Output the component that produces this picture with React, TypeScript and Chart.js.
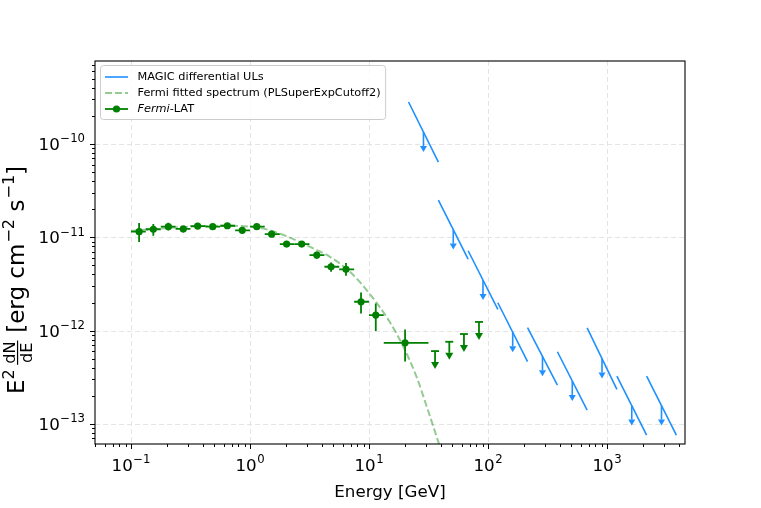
import React, { useEffect, useRef } from "react";
import { Chart, registerables } from "chart.js";

Chart.register(...registerables);

// ---------------- data ----------------
const fermiEnergy = [0.117, 0.154, 0.206, 0.275, 0.363, 0.486, 0.645, 0.861, 1.14, 1.52, 2.03, 2.72, 3.64, 4.8, 6.41, 8.57, 11.4, 20.1];
const fermiFlux = [1.15e-11, 1.22e-11, 1.3e-11, 1.23e-11, 1.32e-11, 1.3e-11, 1.33e-11, 1.19e-11, 1.3e-11, 1.08e-11, 8.47e-12, 8.47e-12, 6.45e-12, 4.84e-12, 4.54e-12, 2.04e-12, 1.47e-12, 7.41e-13];
const fermiFluxLow = [0.89e-11, 1.04e-11, 1.18e-11, 1.13e-11, 1.23e-11, 1.24e-11, 1.28e-11, 1.14e-11, 1.25e-11, 1.04e-11, 8.1e-12, 8.1e-12, 5.9e-12, 4.27e-12, 3.87e-12, 1.53e-12, 9.9e-13, 4.68e-13];
const fermiFluxHigh = [1.42e-11, 1.39e-11, 1.43e-11, 1.32e-11, 1.41e-11, 1.36e-11, 1.38e-11, 1.24e-11, 1.36e-11, 1.12e-11, 8.85e-12, 8.85e-12, 7.0e-12, 5.38e-12, 5.31e-12, 2.56e-12, 1.95e-12, 1.03e-12];
const fermiBinLow = [0.1, 0.133, 0.178, 0.237, 0.316, 0.422, 0.562, 0.75, 1.0, 1.33, 1.78, 2.37, 3.16, 4.22, 5.62, 7.5, 10.0, 13.3];
const fermiBinHigh = [0.133, 0.178, 0.237, 0.316, 0.422, 0.562, 0.75, 1.0, 1.33, 1.78, 2.37, 3.16, 4.22, 5.62, 7.5, 10.0, 13.3, 31.6];

const fermiUlEnergy = [35.9, 47.3, 62.8, 84.0];
const fermiUlFlux = [6.04e-13, 7.6e-13, 9.2e-13, 1.24e-12];

const fitEnergy = [0.1, 0.178, 0.316, 0.562, 1.0, 1.38, 1.91, 3.64, 4.7, 6.92, 10.2, 15.0, 19.4, 25.2, 30.5, 38.2, 40.0];
const fitFlux = [1.17e-11, 1.245e-11, 1.3e-11, 1.33e-11, 1.3e-11, 1.216e-11, 1.06e-11, 7.31e-12, 6.17e-12, 4.27e-12, 2.45e-12, 1.23e-12, 6.76e-13, 3.16e-13, 1.55e-13, 6.46e-14, 5.4e-14];

const magicBinLow = [21.5, 38.3, 68.1, 121, 215, 383, 681, 1211, 2153];
const magicBinHigh = [38.3, 68.1, 121, 215, 383, 681, 1211, 2153, 3828];
const magicFluxAtLow = [2.82e-10, 2.51e-11, 7.18e-12, 1.99e-12, 1.08e-12, 5.94e-13, 1.07e-12, 3.26e-13, 3.26e-13];
const magicFluxAtHigh = [6.41e-11, 5.85e-12, 1.69e-12, 4.65e-13, 2.61e-13, 1.41e-13, 2.35e-13, 7.6e-14, 7.6e-14];

const xTickExponents = [-1, 0, 1, 2, 3];
const yTickExponents = [-13, -12, -11, -10];
const xLimits = [0.04983, 4524];
const yLimits = [6.1e-14, 7.754e-10];

const legendLabels = ["MAGIC differential ULs", "Fermi fitted spectrum (PLSuperExpCutoff2)", "Fermi-LAT"];
const xAxisTitle = "Energy [GeV]";

// ---------------- styles ----------------
const FONT = '"DejaVu Sans", "Liberation Sans", sans-serif';
const GREEN = "#008000";
const LIGHT_GREEN = "rgba(0,128,0,0.42)";
const BLUE = "#1e90ff";
const W = 761;
const H = 508;

function drawPow(ctx: CanvasRenderingContext2D, x: number, y: number, exp: number, size: number, align: string) {
  const supSize = size * 0.7;
  ctx.font = `${size}px ${FONT}`;
  const wBase = ctx.measureText("10").width;
  const expStr = exp < 0 ? "\u2212" + Math.abs(exp) : String(exp);
  ctx.font = `${supSize}px ${FONT}`;
  const wExp = ctx.measureText(expStr).width;
  const total = wBase + wExp + 0.5;
  const x0 = align === "center" ? x - total / 2 : x - total;
  ctx.textAlign = "left";
  ctx.textBaseline = "alphabetic";
  ctx.fillStyle = "#000";
  ctx.font = `${size}px ${FONT}`;
  ctx.fillText("10", x0, y);
  ctx.font = `${supSize}px ${FONT}`;
  ctx.fillText(expStr, x0 + wBase + 0.5, y - size * 0.45);
}

function drawYLabel(ctx: CanvasRenderingContext2D, baseX: number, cy: number) {
  const S = 23;
  const s = S * 0.7;
  const big = `${S}px ${FONT}`;
  const small = `${s}px ${FONT}`;
  const meas = (t: string, f: string) => {
    ctx.font = f;
    return ctx.measureText(t).width;
  };
  const wE = meas("E", big);
  const w2 = meas("2", small);
  const wN = meas("dN", small);
  const wD = meas("dE", small);
  const wFrac = Math.max(wN, wD) + 3;
  const wSp = meas(" ", big);
  const wA = meas("[erg cm", big);
  const wM2 = meas("\u22122", small);
  const wS = meas(" s", big);
  const wM1 = meas("\u22121", small);
  const wB = meas("]", big);
  const gap1 = 4;
  const total = wE + w2 + gap1 + wFrac + wSp + wA + wM2 + wS + wM1 + wB + 2;
  ctx.save();
  ctx.translate(baseX, cy);
  ctx.rotate(-Math.PI / 2);
  ctx.fillStyle = "#000";
  ctx.textAlign = "left";
  ctx.textBaseline = "alphabetic";
  let x = -total / 2;
  const sup = -S * 0.45;
  ctx.font = big; ctx.fillText("E", x, 0); x += wE;
  ctx.font = small; ctx.fillText("2", x, sup); x += w2 + gap1;
  const bar = -S * 0.28;
  ctx.font = small;
  ctx.fillText("dN", x + (wFrac - wN) / 2, bar - 2.5);
  ctx.fillText("dE", x + (wFrac - wD) / 2, bar + 2.5 + s * 0.73);
  ctx.fillRect(x + 0.5, bar - 0.6, wFrac - 1, 1.2);
  x += wFrac + wSp;
  ctx.font = big; ctx.fillText("[erg cm", x, 0); x += wA + 1;
  ctx.font = small; ctx.fillText("\u22122", x, sup); x += wM2;
  ctx.font = big; ctx.fillText(" s", x, 0); x += wS + 1;
  ctx.font = small; ctx.fillText("\u22121", x, sup); x += wM1;
  ctx.font = big; ctx.fillText("]", x, 0);
  ctx.restore();
}

function downArrow(ctx: CanvasRenderingContext2D, x: number, y0: number, len: number, headW: number, headH: number, lw: number, color: string) {
  ctx.strokeStyle = color;
  ctx.fillStyle = color;
  ctx.lineWidth = lw;
  ctx.beginPath();
  ctx.moveTo(x, y0);
  ctx.lineTo(x, y0 + len);
  ctx.stroke();
  ctx.beginPath();
  ctx.moveTo(x - headW / 2, y0 + len);
  ctx.lineTo(x + headW / 2, y0 + len);
  ctx.lineTo(x, y0 + len + headH);
  ctx.closePath();
  ctx.fill();
}

const decorPlugin = {
  id: "decor",
  beforeDatasetsDraw(chart: any) {
    const { ctx, chartArea: a, scales } = chart;
    ctx.save();
    ctx.strokeStyle = "#e4e4e4";
    ctx.lineWidth = 1;
    ctx.setLineDash([5, 3]);
    xTickExponents.forEach((e) => {
      const x = Math.round(scales.x.getPixelForValue(Math.pow(10, e))) + 0.5;
      ctx.beginPath(); ctx.moveTo(x, a.top); ctx.lineTo(x, a.bottom); ctx.stroke();
    });
    yTickExponents.forEach((e) => {
      const y = Math.round(scales.y.getPixelForValue(Math.pow(10, e))) + 0.5;
      ctx.beginPath(); ctx.moveTo(a.left, y); ctx.lineTo(a.right, y); ctx.stroke();
    });
    ctx.restore();
  },
  afterDatasetsDraw(chart: any) {
    const { ctx, chartArea: a, scales } = chart;
    const px = (v: number) => scales.x.getPixelForValue(v);
    const py = (v: number) => scales.y.getPixelForValue(v);
    ctx.save();
    ctx.beginPath();
    ctx.rect(a.left, a.top, a.right - a.left, a.bottom - a.top);
    ctx.clip();
    // Fermi error bars
    ctx.strokeStyle = GREEN;
    ctx.lineWidth = 1.8;
    fermiEnergy.forEach((e, i) => {
      const x = px(e);
      const y = py(fermiFlux[i]);
      ctx.beginPath();
      ctx.moveTo(px(fermiBinLow[i]), y);
      ctx.lineTo(px(fermiBinHigh[i]), y);
      ctx.moveTo(x, py(fermiFluxLow[i]));
      ctx.lineTo(x, py(fermiFluxHigh[i]));
      ctx.stroke();
    });
    // Fermi upper limits
    fermiUlEnergy.forEach((e, i) => {
      const x = px(e);
      const y = py(fermiUlFlux[i]);
      ctx.strokeStyle = GREEN;
      ctx.lineWidth = 1.8;
      ctx.beginPath();
      ctx.moveTo(x - 4, y);
      ctx.lineTo(x + 4, y);
      ctx.stroke();
      downArrow(ctx, x, y, 11, 8, 7, 1.8, GREEN);
    });
    // MAGIC arrows
    magicBinLow.forEach((lo, i) => {
      const ec = Math.sqrt(lo * magicBinHigh[i]);
      const fc = Math.sqrt(magicFluxAtLow[i] * magicFluxAtHigh[i]);
      downArrow(ctx, px(ec), py(fc), 14, 7, 6, 1.6, BLUE);
    });
    ctx.restore();
  },
  afterDraw(chart: any) {
    const { ctx, chartArea: a, scales } = chart;
    const px = (v: number) => scales.x.getPixelForValue(v);
    const py = (v: number) => scales.y.getPixelForValue(v);
    ctx.save();
    // ticks
    ctx.strokeStyle = "#000";
    ctx.lineWidth = 1;
    ctx.beginPath();
    for (let d = -2; d <= 3; d++) {
      for (let m = 1; m <= 9; m++) {
        const v = m * Math.pow(10, d);
        if (v < xLimits[0] || v > xLimits[1]) continue;
        const x = Math.round(px(v)) + 0.5;
        ctx.moveTo(x, a.bottom);
        ctx.lineTo(x, a.bottom + (m === 1 ? 5 : 3));
      }
    }
    for (let d = -14; d <= -10; d++) {
      for (let m = 1; m <= 9; m++) {
        const v = m * Math.pow(10, d);
        if (v < yLimits[0] || v > yLimits[1]) continue;
        const y = Math.round(py(v)) + 0.5;
        ctx.moveTo(a.left, y);
        ctx.lineTo(a.left - (m === 1 ? 5 : 3), y);
      }
    }
    ctx.stroke();
    // frame
    ctx.lineWidth = 1.1;
    ctx.strokeStyle = "#000";
    ctx.strokeRect(a.left, a.top, a.right - a.left, a.bottom - a.top);
    // tick labels
    xTickExponents.forEach((e) => drawPow(ctx, px(Math.pow(10, e)), 471, e, 16.7, "center"));
    yTickExponents.forEach((e) => drawPow(ctx, a.left - 10, py(Math.pow(10, e)) + 6, e, 16.7, "right"));
    // axis titles
    ctx.font = `16.7px ${FONT}`;
    ctx.textAlign = "center";
    ctx.textBaseline = "alphabetic";
    ctx.fillStyle = "#000";
    ctx.fillText(xAxisTitle, (a.left + a.right) / 2, 497);
    drawYLabel(ctx, 24, 280);
    // legend
    const fs = 11.3;
    const fNormal = `${fs}px ${FONT}`;
    const fItalic = `italic ${fs}px ${FONT}`;
    ctx.font = fNormal;
    const textX = 137.5;
    const maxW = Math.max(ctx.measureText(legendLabels[0]).width, ctx.measureText(legendLabels[1]).width);
    const lx = 100.5, ly = 65.5;
    const lw = textX - lx + maxW + 5;
    const lh = 54;
    ctx.beginPath();
    if ((ctx as any).roundRect) (ctx as any).roundRect(lx, ly, lw, lh, 3);
    else ctx.rect(lx, ly, lw, lh);
    ctx.fillStyle = "rgba(255,255,255,0.8)";
    ctx.fill();
    ctx.strokeStyle = "#cccccc";
    ctx.lineWidth = 1;
    ctx.stroke();
    const hx0 = 105, hx1 = 128;
    const rows = [77, 93, 109];
    ctx.strokeStyle = BLUE; ctx.lineWidth = 1.6; ctx.setLineDash([]);
    ctx.beginPath(); ctx.moveTo(hx0, rows[0]); ctx.lineTo(hx1, rows[0]); ctx.stroke();
    ctx.strokeStyle = LIGHT_GREEN; ctx.lineWidth = 2; ctx.setLineDash([7, 3]);
    ctx.beginPath(); ctx.moveTo(hx0, rows[1]); ctx.lineTo(hx1, rows[1]); ctx.stroke();
    ctx.setLineDash([]);
    ctx.strokeStyle = GREEN; ctx.lineWidth = 1.8;
    ctx.beginPath(); ctx.moveTo(hx0, rows[2]); ctx.lineTo(hx1, rows[2]); ctx.stroke();
    ctx.fillStyle = GREEN;
    ctx.beginPath(); ctx.arc((hx0 + hx1) / 2, rows[2], 3.6, 0, Math.PI * 2); ctx.fill();
    ctx.fillStyle = "#000";
    ctx.textAlign = "left";
    ctx.textBaseline = "middle";
    ctx.font = fNormal;
    ctx.fillText(legendLabels[0], textX, rows[0]);
    ctx.fillText(legendLabels[1], textX, rows[1]);
    const parts = legendLabels[2].split("-");
    ctx.font = fItalic;
    ctx.fillText(parts[0], textX, rows[2]);
    const wi = ctx.measureText(parts[0]).width;
    ctx.font = fNormal;
    ctx.fillText("-" + parts[1], textX + wi, rows[2]);
    ctx.restore();
  },
};

export default function App() {
  const ref = useRef<HTMLCanvasElement | null>(null);
  useEffect(() => {
    const canvas = ref.current;
    if (!canvas) return;
    const magicSets = magicBinLow.map((lo, i) => ({
      label: legendLabels[0],
      data: [
        { x: lo, y: magicFluxAtLow[i] },
        { x: magicBinHigh[i], y: magicFluxAtHigh[i] },
      ],
      showLine: true,
      borderColor: BLUE,
      backgroundColor: BLUE,
      borderWidth: 1.6,
      pointRadius: 0,
    }));
    const chart = new Chart(canvas, {
      type: "scatter",
      data: {
        datasets: [
          {
            label: legendLabels[2],
            data: fermiEnergy.map((e, i) => ({ x: e, y: fermiFlux[i] })),
            showLine: false,
            pointRadius: 3.6,
            backgroundColor: GREEN,
            borderColor: GREEN,
            borderWidth: 0,
          },
          {
            label: legendLabels[1],
            data: fitEnergy.map((e, i) => ({ x: e, y: fitFlux[i] })),
            showLine: true,
            borderColor: LIGHT_GREEN,
            backgroundColor: LIGHT_GREEN,
            borderWidth: 2,
            borderDash: [7, 3],
            pointRadius: 0,
            cubicInterpolationMode: "monotone",
          },
          ...magicSets,
        ] as any,
      },
      options: {
        animation: false,
        responsive: false,
        devicePixelRatio: 1,
        events: [],
        layout: { padding: { left: 95, top: 61, right: W - 685, bottom: H - 444 } },
        plugins: { legend: { display: false }, tooltip: { enabled: false } },
        scales: {
          x: { type: "logarithmic", min: xLimits[0], max: xLimits[1], display: false },
          y: { type: "logarithmic", min: yLimits[0], max: yLimits[1], display: false },
        },
      } as any,
      plugins: [decorPlugin as any],
    });
    return () => chart.destroy();
  }, []);
  return (
    <div style={{ position: "absolute", left: 0, top: 0, width: W, height: H, background: "#fff" }}>
      <canvas ref={ref} width={W} height={H} style={{ display: "block", width: W, height: H }} />
    </div>
  );
}
